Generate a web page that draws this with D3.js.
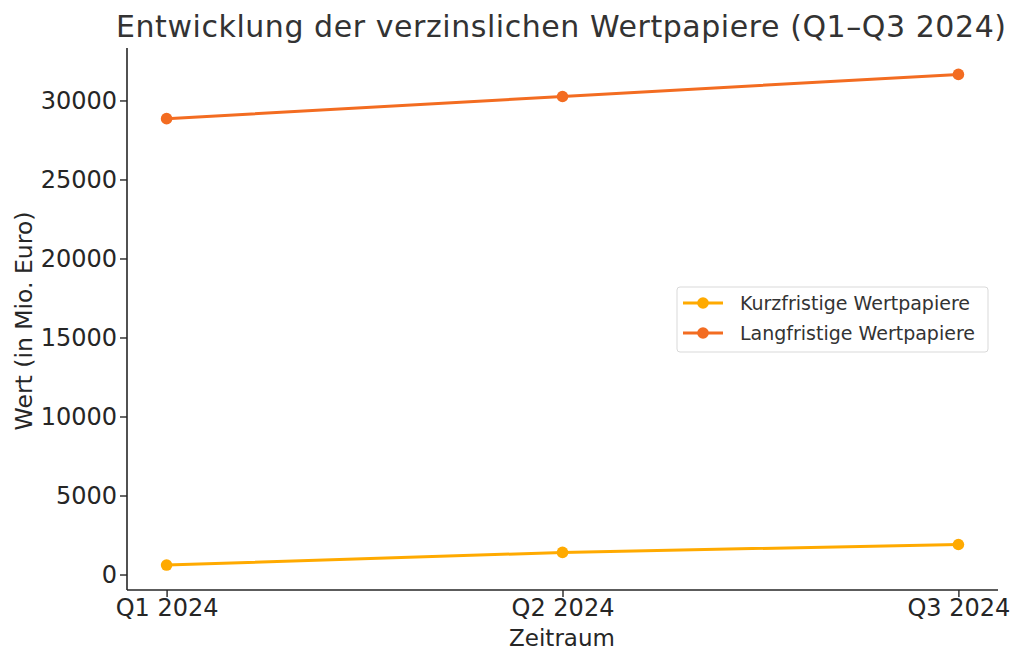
<!DOCTYPE html>
<html><head><meta charset="utf-8">
<script src="https://cdn.jsdelivr.net/npm/d3@7"></script>
<style>body{margin:0;background:#fff;}svg{display:block;font-family:"DejaVu Sans",sans-serif;}</style>
</head><body>
<svg id="c" width="1024" height="665"></svg>
<script>
const categories = ["Q1 2024", "Q2 2024", "Q3 2024"];
const kurzfristig = [600, 1400, 1900];
const langfristig = [28850, 30250, 31650];
const yTicks = [0, 5000, 10000, 15000, 20000, 25000, 30000];
const seriesNames = ["Kurzfristige Wertpapiere", "Langfristige Wertpapiere"];
const seriesColors = ["#FFAA00", "#F36C21"];

const svg = d3.select("#c");
const L = 127, R = 998, T = 48, B = 590;
// 5% margins on each side, like the reference
const xs = d3.scaleLinear().domain([-0.1, 2.1]).range([L, R]);
const y = d3.scaleLinear().domain([-980, 33320]).range([B, T]);
const textColor = "#262626";

// title
svg.append("text").attr("x", 561).attr("y", 37).attr("text-anchor", "middle")
  .attr("font-size", 30).attr("fill", "#333")
  .attr("textLength", 890).attr("lengthAdjust", "spacing")
  .text("Entwicklung der verzinslichen Wertpapiere (Q1–Q3 2024)");

// y axis
const yAxis = svg.append("g").attr("transform", `translate(${L},0)`)
  .call(d3.axisLeft(y).tickValues(yTicks).tickFormat(d3.format("d")).tickSize(7).tickPadding(3));
yAxis.select(".domain").attr("d", `M0,${T}V${B}`);
// x axis
const xAxis = svg.append("g").attr("transform", `translate(0,${B})`)
  .call(d3.axisBottom(xs).tickValues([0,1,2]).tickFormat(i => categories[i]).tickSize(7).tickPadding(2));
xAxis.select(".domain").attr("d", `M${L},0H${R}`);
[yAxis, xAxis].forEach(a => {
  a.select(".domain").attr("stroke", textColor).attr("stroke-width", 1.6);
  a.selectAll(".tick line").attr("stroke", textColor).attr("stroke-width", 1.4);
  a.selectAll(".tick text").attr("font-size", 24).attr("fill", textColor).attr("font-family", "DejaVu Sans");
});

// axis labels
svg.append("text").attr("x", 562).attr("y", 646).attr("text-anchor", "middle")
  .attr("font-size", 23).attr("fill", textColor).text("Zeitraum");
svg.append("text").attr("transform", "translate(32,321) rotate(-90)").attr("text-anchor", "middle")
  .attr("font-size", 23.5).attr("fill", textColor).text("Wert (in Mio. Euro)");

// lines
const line = d3.line().x((d, i) => xs(i)).y(d => y(d));
[kurzfristig, langfristig].forEach((data, k) => {
  svg.append("path").datum(data).attr("d", line).attr("fill", "none")
    .attr("stroke", seriesColors[k]).attr("stroke-width", 3);
  svg.selectAll(null).data(data).enter().append("circle")
    .attr("cx", (d, i) => xs(i)).attr("cy", d => y(d)).attr("r", 5.8).attr("fill", seriesColors[k]);
});

// legend
const lg = svg.append("g");
lg.append("rect").attr("x", 677).attr("y", 287).attr("width", 311).attr("height", 65).attr("rx", 3)
  .attr("fill", "#fff").attr("stroke", "#d9d9d9").attr("stroke-width", 1);
seriesNames.forEach((n, k) => {
  const cy = 303 + k * 30;
  lg.append("line").attr("x1", 683).attr("x2", 723).attr("y1", cy).attr("y2", cy)
    .attr("stroke", seriesColors[k]).attr("stroke-width", 3);
  lg.append("circle").attr("cx", 703).attr("cy", cy).attr("r", 5.8).attr("fill", seriesColors[k]);
  lg.append("text").attr("x", 740).attr("y", cy + 7).attr("font-size", 19).attr("fill", "#333").text(n);
});
</script>
</body></html>
